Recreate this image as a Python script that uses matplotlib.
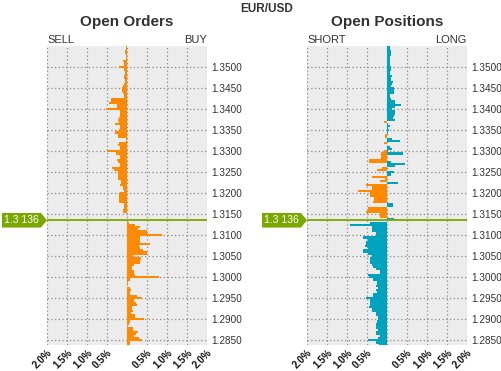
import matplotlib.pyplot as plt
import numpy as np
from matplotlib.patches import Polygon
from matplotlib.transforms import blended_transform_factory

plt.rcParams['font.family'] = ['Liberation Sans', 'DejaVu Sans']

# price levels (bins of 0.0005), current price
current_price = 1.3136
step = 0.0005
upper_start = 1.3550   # first level above current price (top of chart)
lower_start = 1.3130   # first level below current price

# open orders, % of total (negative = sell side)
sell_orders = [
    -0.025, -0.025, -0.05, -0.05, -0.03, -0.03, -0.03, -0.10, -0.08, -0.08,
    -0.20, -0.07, -0.06, -0.06, -0.08, -0.08, -0.06, -0.06, -0.07, -0.10,
    -0.12, -0.12, -0.10, -0.08, -0.08, -0.40, -0.40, -0.45, -0.25, -0.25,
    -0.52, -0.18, -0.17, -0.17, -0.20, -0.22, -0.20, -0.30, -0.18, -0.18,
    -0.21, -0.30, -0.23, -0.22, -0.03, -0.03, -0.20, -0.22, -0.18, -0.18,
    -0.50, -0.27, -0.18, -0.18, -0.25, -0.22, -0.17, -0.17, -0.37, -0.33,
    -0.22, -0.22, -0.22, -0.22, -0.15, -0.15, -0.17, -0.10, -0.10, -0.07,
    -0.17, -0.20, -0.20, -0.20, -0.20, -0.08, -0.07, -0.07, -0.10, -0.10,
    0.0, 0.0, 0.0,
]
buy_orders = [
    0.05, 0.20, 0.33, 0.27, 0.50, 0.50, 0.875, 0.32, 0.32, 0.32,
    0.57, 0.29, 0.33, 0.40, 0.50, 0.50, 0.14, 0.35, 0.33, 0.33,
    0.17, 0.125, 0.13, 0.17, 0.17, 0.20, 0.79, 0.08, 0.03, 0.03,
    0.01, 0.07, 0.10, 0.08, 0.08, 0.25, 0.375, 0.17, 0.23, 0.25,
    0.13, 0.13, 0.15, 0.11, 0.21, 0.21, 0.43, 0.08, 0.05, 0.01,
    0.15, 0.15, 0.27, 0.23, 0.17, 0.29, 0.375, 0.08, 0.08,
]

# open positions, % of total
pos_teal_upper = [
    0.07, 0.07, 0.11, 0.11, 0.11, 0.08, 0.07, 0.08, 0.08, 0.08,
    0.11, 0.11, 0.08, 0.08, 0.12, 0.11, 0.11, 0.15, 0.12, 0.09,
    0.17, 0.17, 0.17, 0.08, 0.08, 0.11, 0.19, 0.19, 0.34, 0.19,
    0.13, 0.19, 0.19, 0.18, 0.15, 0.19, 0.0, 0.03, 0.07, 0.03,
    0.05, 0.03, 0.0, 0.0, 0.13, 0.32, 0.0, 0.0, 0.07, 0.12,
    0.02, 0.40, 0.0, 0.0, 0.0, 0.09, 0.44, 0.19, 0.0, 0.0,
    0.17, 0.11, 0.0, 0.0, 0.0, 0.27, 0.0, 0.0, 0.0, 0.0,
    0.0, 0.0, 0.0, 0.0, 0.0, 0.15, 0.15, 0.0, 0.0, 0.0,
    0.0, 0.0, 0.17,
]
pos_orange_upper = [
    0.0, 0.0, 0.0, 0.0, 0.0, 0.0, 0.0, 0.0, 0.0, 0.0,
    0.0, 0.0, 0.0, 0.0, 0.0, 0.0, 0.0, 0.0, 0.0, 0.0,
    0.0, 0.0, 0.0, 0.0, 0.0, 0.0, 0.0, 0.0, 0.0, 0.0,
    0.0, 0.0, 0.0, 0.0, 0.0, 0.0, -0.08, 0.0, 0.0, 0.0,
    0.0, 0.0, -0.05, -0.05, 0.0, 0.0, -0.08, 0.0, 0.0, 0.0,
    -0.08, -0.16, -0.16, -0.16, -0.45, -0.45, 0.0, 0.0, -0.12, -0.26,
    0.0, 0.0, -0.38, -0.05, -0.18, 0.0, -0.53, -0.38, -0.38, -0.73,
    -0.42, -0.42, -0.33, -0.32, -0.35, 0.0, 0.0, -0.48, -0.48, -0.52,
    -0.18, -0.18, 0.0,
]
pos_teal_lower = [
    -0.43, -0.93, -0.38, -0.38, -0.37, -0.28, -0.28, -0.60, -0.48, -0.53,
    -0.53, -0.56, -0.48, -0.60, -0.60, -0.47, -0.38, -0.42, -0.43, -0.43,
    -0.37, -0.35, -0.28, -0.18, -0.18, -0.47, -0.45, -0.35, -0.25, -0.25,
    -0.28, -0.22, -0.28, -0.25, -0.35, -0.35, -0.53, -0.43, -0.42, -0.42,
    -0.45, -0.38, -0.37, -0.27, -0.27, -0.23, -0.23, -0.25, -0.28, -0.28,
    -0.27, -0.22, -0.27, -0.27, -0.18, -0.23, -0.48, -0.28, -0.20,
]

price_ticks = [1.2850, 1.2900, 1.2950, 1.3000, 1.3050, 1.3100, 1.3150,
               1.3200, 1.3250, 1.3300, 1.3350, 1.3400, 1.3450, 1.3500]
pct_ticks = [-2.0, -1.5, -1.0, -0.5, 0.0, 0.5, 1.0, 1.5, 2.0]
pct_labels = ['2.0%', '1.5%', '1.0%', '0.5%', '', '0.5%', '1.0%', '1.5%', '2.0%']

upper_levels = upper_start - step * np.arange(len(sell_orders))
lower_levels = lower_start - step * np.arange(len(buy_orders))

ORANGE = '#ff8a00'
TEAL = '#00a3bd'
GREEN = '#7aa800'
TEXT = '#333333'

fig = plt.figure(figsize=(5.01, 3.71), dpi=100)
ax1 = fig.add_axes([47 / 501, 26 / 371, 160 / 501, 299 / 371])
ax2 = fig.add_axes([307 / 501, 26 / 371, 160 / 501, 299 / 371])


def style_panel(ax):
    ax.set_facecolor('#ececec')
    ax.set_xlim(-2, 2)
    ax.set_ylim(1.2839, 1.3551)
    ax.set_axisbelow(True)
    for s in ax.spines.values():
        s.set_visible(False)
    ax.set_xticks(pct_ticks)
    ax.set_xticklabels(pct_labels, rotation=45, ha='right', va='top',
                       rotation_mode='anchor', fontsize=7, fontweight='bold',
                       color='#111111')
    ax.set_yticks(price_ticks)
    ax.set_yticklabels(['%.4f' % p for p in price_ticks], fontsize=7.2, color=TEXT)
    ax.yaxis.tick_right()
    ax.tick_params(length=0)
    ax.tick_params(axis='y', pad=3)
    ax.tick_params(axis='x', pad=2)
    ax.grid(True, color='#8a8a8a', linestyle=(0, (1, 2)), linewidth=0.9)
    ax.axhline(current_price, color=GREEN, linewidth=1.3, zorder=4)

    # price tag on the left of the panel
    tr = blended_transform_factory(ax.transAxes, ax.transData)
    h = 7.3 * (1.3551 - 1.2839) / 299
    w = 45 / 160
    tip = 6 / 160
    verts = [(-w, current_price - h), (-tip, current_price - h), (0, current_price),
             (-tip, current_price + h), (-w, current_price + h)]
    ax.add_patch(Polygon(verts, closed=True, transform=tr, clip_on=False,
                         facecolor=GREEN, edgecolor='none', zorder=5))
    ax.text(-(w + tip) / 2, current_price, '1.3 136', transform=tr, ha='center',
            va='center', color='white', fontsize=7.5, zorder=6, clip_on=False)


style_panel(ax1)
style_panel(ax2)

ax1.barh(upper_levels, sell_orders, height=step, color=ORANGE, linewidth=0)
ax1.barh(lower_levels, buy_orders, height=step, color=ORANGE, linewidth=0)

ax2.barh(upper_levels, pos_teal_upper, height=step, color=TEAL, linewidth=0)
ax2.barh(upper_levels, pos_orange_upper, height=step, color=ORANGE, linewidth=0)
ax2.barh(lower_levels, pos_teal_lower, height=step, color=TEAL, linewidth=0)

fig.text(266.7 / 501, 1 - 8.5 / 371, 'EUR/USD', ha='center', va='center',
         fontsize=8.5, fontweight='bold', color=TEXT)
for ax, title, left, right in [(ax1, 'Open Orders', 'SELL', 'BUY'),
                               (ax2, 'Open Positions', 'SHORT', 'LONG')]:
    ax.text(0.5, 1 + 24 / 299, title, transform=ax.transAxes, ha='center',
            va='center', fontsize=11, fontweight='bold', color=TEXT)
    ax.text(0, 1 + 6 / 299, left, transform=ax.transAxes, ha='left',
            va='center', fontsize=8, color=TEXT)
    ax.text(1, 1 + 6 / 299, right, transform=ax.transAxes, ha='right',
            va='center', fontsize=8, color=TEXT)

fig.savefig('out.png', dpi=100)
